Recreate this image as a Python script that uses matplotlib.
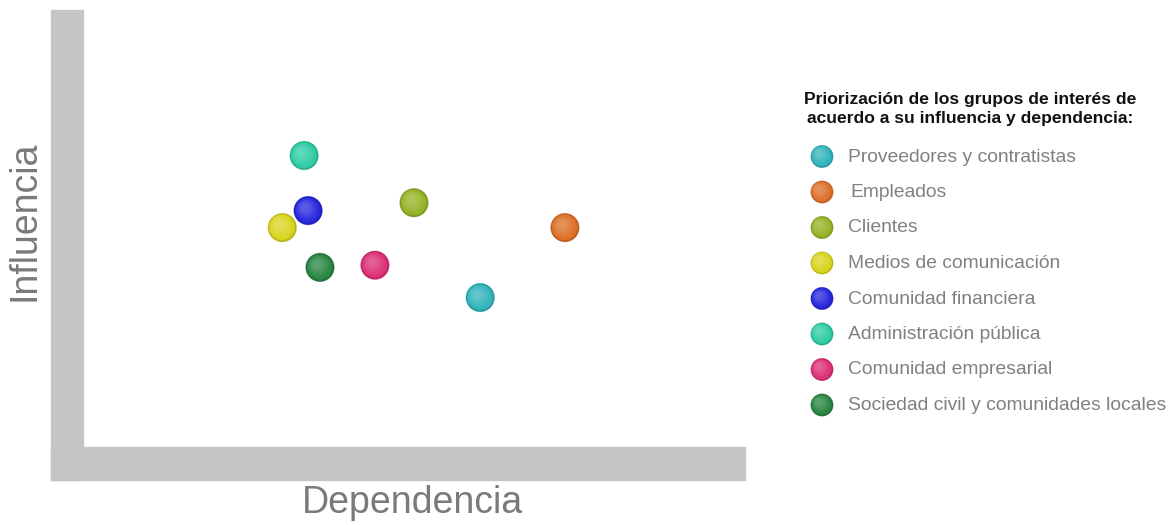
import matplotlib
matplotlib.use("Agg")
import matplotlib.pyplot as plt
import matplotlib.colors as mcolors
from matplotlib.patches import Rectangle
from matplotlib.transforms import offset_copy

plt.rcParams['font.family'] = ['Liberation Sans', 'DejaVu Sans']

# Data (dependencia, influencia) on a 0-100 scale
grupos = ['Proveedores y contratistas', 'Empleados', 'Clientes',
          'Medios de comunicación', 'Comunidad financiera',
          'Administración pública', 'Comunidad empresarial',
          'Sociedad civil y comunidades locales']
dependencia = [60.0, 72.8, 50.0, 30.1, 34.0, 33.4, 44.1, 35.8]
influencia = [34.2, 50.2, 55.9, 50.2, 54.1, 66.7, 41.6, 41.1]
colores = ['#2fb3ba', '#dc6e26', '#93b224', '#d9d41c', '#2424dc',
           '#2ccba3', '#db2d74', '#268441']

titulo = 'Priorización de los grupos de interés de\nacuerdo a su influencia y dependencia:'

W, H = 1171, 525
fig = plt.figure(figsize=(W / 100, H / 100), dpi=100)


def fx(px):
    return px / W


def fy(py):
    return 1 - py / H


def ball(ax, x, y, color, size, trans=None):
    # fake 3D sphere: saturated body, soft lighter spot to the upper-left
    if trans is None:
        trans = ax.transData
    base = mcolors.to_rgb(color)
    rim = tuple(c * 0.85 for c in base)
    ax.scatter([x], [y], s=size * 1.06, color=rim, alpha=0.4, edgecolors='none',
               zorder=3, transform=trans)
    ax.scatter([x], [y], s=size, color=rim, edgecolors='none', zorder=3, transform=trans)
    n = 10
    for i in range(1, n + 1):
        f = i / n
        col = tuple(c + (1 - c) * 0.24 * f ** 1.5 for c in base)
        s = size * (0.9 - 0.82 * f)
        off = offset_copy(trans, fig=fig, x=-2.2 * f, y=2.2 * f, units='points')
        ax.scatter([x], [y], s=s, color=col, edgecolors='none', zorder=3 + i, transform=off)


# gray L frame
fig.patches.append(Rectangle((fx(51), fy(480)), fx(83) - fx(51), fy(10) - fy(480),
                             transform=fig.transFigure, color='#c5c5c5', zorder=0))
fig.patches.append(Rectangle((fx(51), fy(480)), fx(745) - fx(51), fy(447) - fy(480),
                             transform=fig.transFigure, color='#c5c5c5', zorder=0))

ax = fig.add_axes([fx(83), fy(447), fx(745) - fx(83), fy(10) - fy(447)])
ax.set_xlim(0, 100)
ax.set_ylim(0, 100)
ax.axis('off')

for x, y, c in zip(dependencia, influencia, colores):
    ball(ax, x, y, c, 420)

fig.text(fx(25), fy(221), 'Influencia', rotation=90, ha='center', va='center',
         fontsize=27, color='#7a7a7a')
fig.text(fx(412), fy(503), 'Dependencia', ha='center', va='center',
         fontsize=27, color='#7a7a7a')

# legend
lax = fig.add_axes([0, 0, 1, 1])
lax.set_xlim(0, W)
lax.set_ylim(H, 0)
lax.axis('off')
lax.text(970, 109, titulo, ha='center', va='center', fontsize=12.6,
         fontweight='bold', color='#111111', linespacing=1.38)
for i, (g, c) in enumerate(zip(grupos, colores)):
    yy = 156.5 + i * 35.5
    ball(lax, 822, yy, c, 260)
    lax.text(848 if i != 1 else 850, yy + 0.5, g, ha='left', va='center',
             fontsize=13.9, color='#808080')

fig.savefig('out.png', dpi=100)
